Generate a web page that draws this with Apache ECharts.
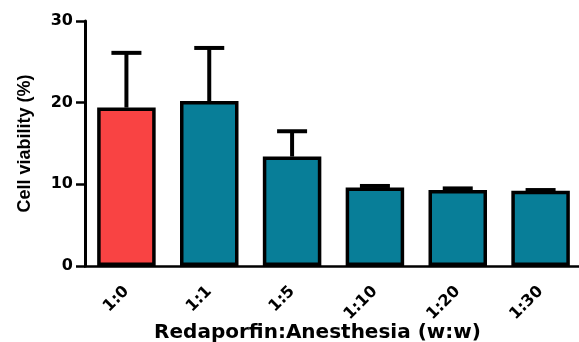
<!DOCTYPE html>
<html><head><meta charset="utf-8">
<script src="https://cdn.jsdelivr.net/npm/echarts@6/dist/echarts.min.js"></script>
<style>html,body{margin:0;padding:0;background:#fff}#c{width:579px;height:342px}</style>
</head><body><div id="c"></div>
<script>
const categories = ['1:0', '1:1', '1:5', '1:10', '1:20', '1:30'];
const means = [19.4, 20.2, 13.4, 9.6, 9.3, 9.2];
const sds = [6.7, 6.5, 3.1, 0.2, 0.2, 0.1];
const barColors = ['#F94343', '#087E98', '#087E98', '#087E98', '#087E98', '#087E98'];
const yTicks = [0, 10, 20, 30];

const chart = echarts.init(document.getElementById('c'), null, {renderer: 'canvas'});
chart.setOption({
  animation: false,
  grid: {left: 85, top: 21, width: 497, height: 245, containLabel: false, outerBoundsMode: 'none'},
  xAxis: {
    type: 'category', data: categories,
    axisLine: {lineStyle: {color: '#000', width: 2.5}},
    axisTick: {alignWithLabel: true, length: 7, lineStyle: {color: '#000', width: 2.5}},
    axisLabel: {rotate: 45, margin: 23, color: '#000', fontFamily: 'DejaVu Sans', fontWeight: 'bold', fontSize: 16},
    name: 'Redaporfin:Anesthesia (w:w)', nameLocation: 'middle', nameGap: 57, nameMoveOverlap: false,
    nameTextStyle: {color: '#000', fontFamily: 'DejaVu Sans', fontWeight: 'bold', fontSize: 20, padding: [0, 32, 0, 0]}
  },
  yAxis: {
    type: 'value', min: 0, max: 30, interval: 10,
    splitLine: {show: false},
    axisLine: {show: true, lineStyle: {color: '#000', width: 3}},
    axisTick: {show: true, length: 9, lineStyle: {color: '#000', width: 2.5}},
    axisLabel: {margin: 12, color: '#000', fontFamily: 'DejaVu Sans', fontWeight: 'bold', fontSize: 16,
      formatter: v => yTicks.includes(v) ? String(v) : ''},
    name: 'Cell viability (%)', nameLocation: 'middle', nameGap: 51, nameMoveOverlap: false,
    nameTextStyle: {color: '#000', fontFamily: 'Liberation Sans', fontWeight: 'bold', fontSize: 18}
  },
  series: [
    {
      type: 'custom', z: 1,
      renderItem: function (params, api) {
        const i = api.value(0);
        const m = api.value(1), s = api.value(2);
        const p0 = api.coord([i, m]);
        const p1 = api.coord([i, m + s]);
        const hw = 15;
        return {type: 'group', children: [
          {type: 'line', shape: {x1: p0[0], y1: p0[1], x2: p1[0], y2: p1[1]}, style: {stroke: '#000', lineWidth: 4}},
          {type: 'line', shape: {x1: p1[0] - hw, y1: p1[1], x2: p1[0] + hw, y2: p1[1]}, style: {stroke: '#000', lineWidth: 4}}
        ]};
      },
      data: categories.map((c, i) => [i, means[i], sds[i]])
    },
    {
      type: 'bar', z: 2, barWidth: 58.5,
      data: means.map((v, i) => ({value: v, itemStyle: {color: barColors[i]}})),
      itemStyle: {borderColor: '#000', borderWidth: 3.5}
    }
  ]
});
</script></body></html>
